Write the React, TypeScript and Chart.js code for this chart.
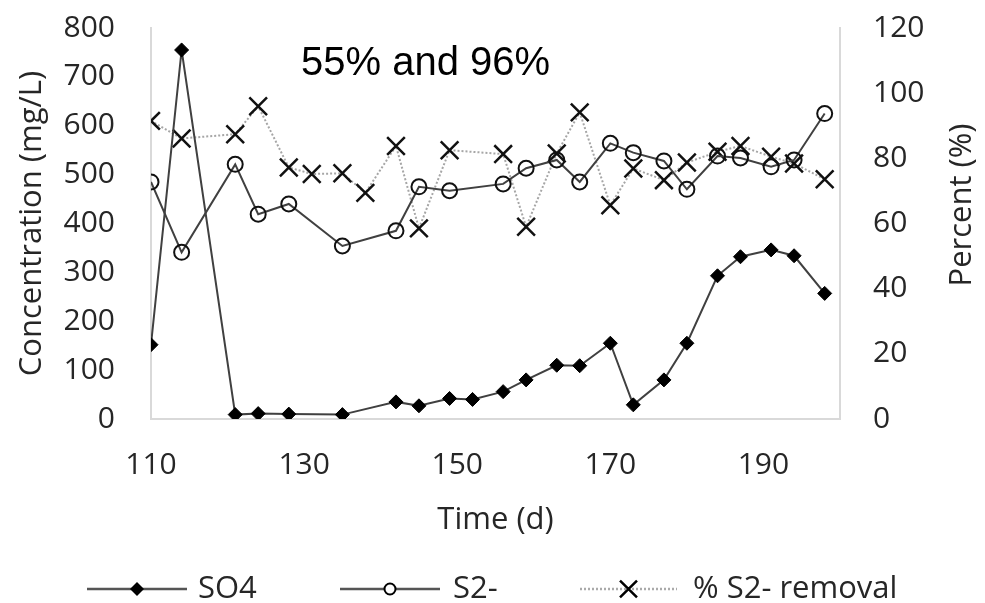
import React, { useEffect, useRef } from 'react';
import { Chart, registerables } from 'chart.js';

Chart.register(...registerables);

// ---- data ----
const so4Days = [110, 114, 121, 124, 128, 135, 142, 145, 149, 152, 156, 159, 163, 166, 170, 173, 177, 180, 184, 187, 191, 194, 198];
const so4Values = [152, 755, 9, 11, 10, 9, 35, 27, 42, 40, 56, 80, 110, 109, 155, 29, 80, 155, 293, 332, 346, 334, 257];

const s2Days = [110, 114, 121, 124, 128, 135, 142, 145, 149, 156, 159, 163, 166, 170, 173, 177, 180, 184, 187, 191, 194, 198];
const s2Values = [485, 341, 521, 419, 440, 354, 385, 475, 467, 481, 513, 530, 485, 564, 545, 528, 470, 538, 534, 516, 530, 625];

const removalDays = [110, 114, 121, 124, 128, 131, 135, 138, 142, 145, 149, 156, 159, 163, 166, 170, 173, 177, 180, 184, 187, 191, 194, 198];
const removalValues = [91.5, 86.1, 87.4, 96.0, 77.2, 75.2, 75.4, 69.4, 83.8, 58.5, 82.5, 81.3, 59.0, 81.5, 94.1, 65.6, 76.9, 73.3, 78.7, 82.0, 83.8, 80.5, 78.4, 73.6];

const xTicks = [110, 130, 150, 170, 190];
const seriesLabels = ['SO4', 'S2-', '% S2- removal'];
const annotationText = '55% and 96%';
const xTitle = 'Time (d)';
const yTitle = 'Concentration (mg/L)';
const y1Title = 'Percent (%)';

const zip = (xs: number[], ys: number[]) => xs.map((x, i) => ({ x, y: ys[i] }));

const TEXT = '#262626';
const AXIS = '#d9d9d9';
const LINE = '#404040';

function drawMarker(ctx: CanvasRenderingContext2D, style: string, x: number, y: number, r: number) {
  ctx.save();
  ctx.lineWidth = 2;
  ctx.strokeStyle = '#000';
  ctx.fillStyle = '#000';
  ctx.setLineDash([]);
  ctx.beginPath();
  if (style === 'rectRot') {
    ctx.moveTo(x - r, y);
    ctx.lineTo(x, y - r);
    ctx.lineTo(x + r, y);
    ctx.lineTo(x, y + r);
    ctx.closePath();
    ctx.fill();
  } else if (style === 'circle') {
    ctx.fillStyle = '#fff';
    ctx.arc(x, y, r, 0, Math.PI * 2);
    ctx.fill();
    ctx.stroke();
  } else {
    const d = r * Math.SQRT1_2;
    ctx.moveTo(x - d, y - d);
    ctx.lineTo(x + d, y + d);
    ctx.moveTo(x + d, y - d);
    ctx.lineTo(x - d, y + d);
    ctx.lineWidth = 2.5;
    ctx.stroke();
  }
  ctx.restore();
}

const overlayPlugin = {
  id: 'overlay',
  afterDraw(chart: any) {
    const ctx: CanvasRenderingContext2D = chart.ctx;
    ctx.save();
    // annotation
    ctx.font = '40px "Liberation Sans", Arial, sans-serif';
    ctx.fillStyle = '#000';
    ctx.textBaseline = 'alphabetic';
    ctx.textAlign = 'left';
    ctx.fillText(annotationText, 301, 75);

    // right axis title (reads bottom-to-top)
    ctx.save();
    ctx.translate(962, 205);
    ctx.rotate(-Math.PI / 2);
    ctx.font = '31px "Open Sans", sans-serif';
    ctx.fillStyle = TEXT;
    ctx.textAlign = 'center';
    ctx.textBaseline = 'middle';
    ctx.fillText(y1Title, 0, 0);
    ctx.restore();

    // legend
    const y = 589;
    const items = [
      { x0: 87, x1: 187, tx: 198, style: 'rectRot', r: 7, dash: [] as number[], color: '#555' },
      { x0: 340, x1: 440, tx: 453, style: 'circle', r: 5.5, dash: [] as number[], color: '#555' },
      { x0: 580, x1: 677, tx: 693, style: 'crossRot', r: 12, dash: [2, 2], color: '#aaa' },
    ];
    items.forEach((it, i) => {
      ctx.save();
      ctx.strokeStyle = it.color;
      ctx.lineWidth = 2.5;
      ctx.setLineDash(it.dash);
      ctx.beginPath();
      ctx.moveTo(it.x0, y);
      ctx.lineTo(it.x1, y);
      ctx.stroke();
      ctx.restore();
      drawMarker(ctx, it.style, (it.x0 + it.x1) / 2, y, it.r);
      ctx.font = '31px "Open Sans", sans-serif';
      ctx.fillStyle = TEXT;
      ctx.textBaseline = 'middle';
      ctx.textAlign = 'left';
      ctx.fillText(seriesLabels[i], it.tx, y);
    });
    ctx.restore();
  },
};

export default function App() {
  const ref = useRef<HTMLCanvasElement>(null);
  useEffect(() => {
    document.body.style.margin = '0';
    const canvas = ref.current!;
    Chart.defaults.font.family = '"Open Sans", sans-serif';
    const chart = new Chart(canvas, {
      type: 'line',
      data: {
        datasets: [
          {
            label: seriesLabels[0],
            data: zip(so4Days, so4Values),
            yAxisID: 'y',
            borderColor: LINE,
            borderWidth: 2,
            pointStyle: 'rectRot',
            pointRadius: 7,
            pointBackgroundColor: '#000',
            pointBorderColor: '#000',
            pointBorderWidth: 1,
            tension: 0,
          },
          {
            label: seriesLabels[1],
            data: zip(s2Days, s2Values),
            yAxisID: 'y',
            borderColor: LINE,
            borderWidth: 2,
            pointStyle: 'circle',
            pointRadius: 7.5,
            pointBackgroundColor: 'rgba(255,255,255,0)',
            pointBorderColor: '#111',
            pointBorderWidth: 2,
            tension: 0,
          },
          {
            label: seriesLabels[2],
            data: zip(removalDays, removalValues),
            yAxisID: 'y1',
            borderColor: '#a6a6a6',
            borderWidth: 2,
            borderDash: [2, 2],
            pointStyle: 'crossRot',
            pointRadius: 12.5,
            pointBorderColor: '#111',
            pointBorderWidth: 2.5,
            tension: 0,
          },
        ],
      },
      options: {
        animation: false,
        responsive: false,
        devicePixelRatio: 1,
        layout: { padding: { top: 28, left: 0, right: 0, bottom: 0 } },
        plugins: { legend: { display: false }, tooltip: { enabled: false } },
        scales: {
          x: {
            type: 'linear',
            position: 'bottom',
            min: 110,
            max: 200,
            afterBuildTicks: (s: any) => {
              s.ticks = xTicks.map((v) => ({ value: v }));
            },
            afterFit: (s: any) => {
              s.height = 184;
              s.paddingLeft = 0;
              s.paddingRight = 0;
            },
            grid: { display: false, drawTicks: false },
            border: { display: true, color: AXIS, width: 2 },
            ticks: { font: { size: 30 }, color: TEXT, padding: 28, maxRotation: 0, autoSkip: false },
            title: { display: true, text: xTitle, font: { size: 31 }, color: TEXT, padding: { top: 0, bottom: 64 } },
          },
          y: {
            type: 'linear',
            position: 'left',
            min: 0,
            max: 800,
            afterFit: (s: any) => {
              s.width = 151;
              s.paddingTop = 0;
              s.paddingBottom = 0;
            },
            grid: { display: false, drawTicks: false },
            border: { display: true, color: AXIS, width: 2 },
            ticks: { stepSize: 100, font: { size: 30 }, color: TEXT, padding: 36 },
            title: { display: true, text: yTitle, font: { size: 31 }, color: TEXT, padding: { top: 14, bottom: 0 } },
          },
          y1: {
            type: 'linear',
            position: 'right',
            min: 0,
            max: 120,
            afterFit: (s: any) => {
              s.width = 145;
              s.paddingTop = 0;
              s.paddingBottom = 0;
            },
            grid: { display: false, drawTicks: false },
            border: { display: true, color: AXIS, width: 2 },
            ticks: { stepSize: 20, font: { size: 30 }, color: TEXT, padding: 33 },
            title: { display: false, text: y1Title },
          },
        },
      },
      plugins: [overlayPlugin],
    } as any);
    return () => chart.destroy();
  }, []);
  return <canvas ref={ref} width={985} height={603} style={{ display: 'block', width: 985, height: 603 }} />;
}
